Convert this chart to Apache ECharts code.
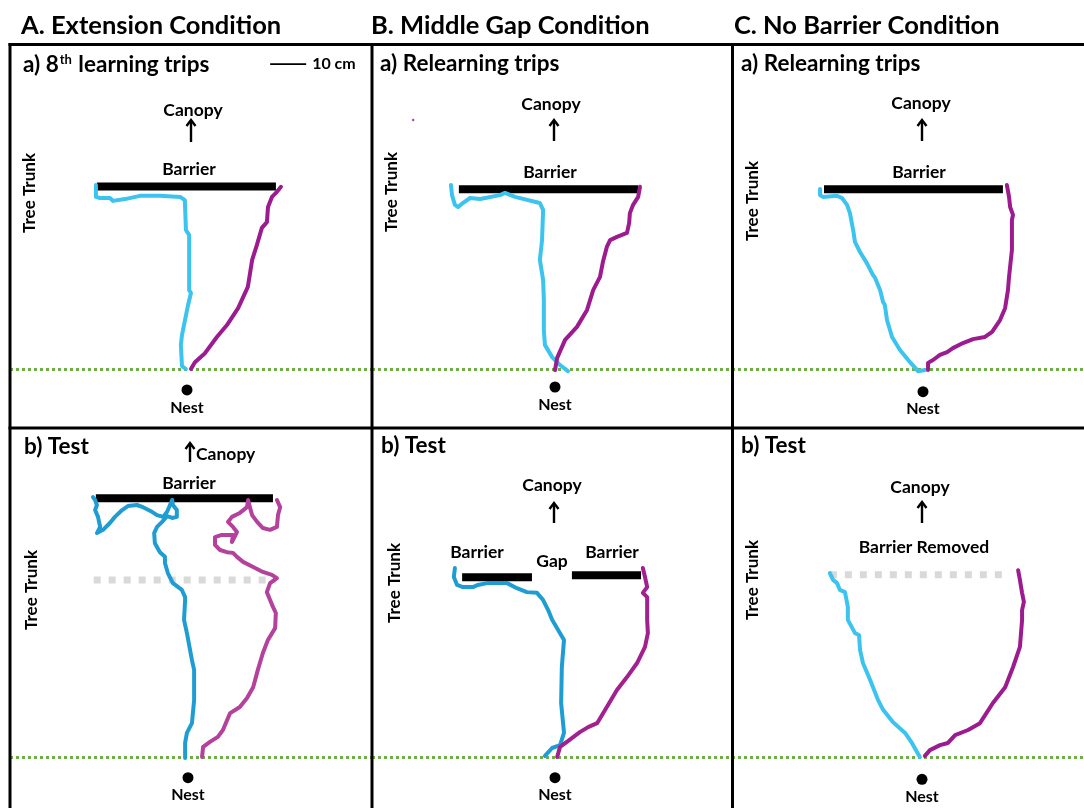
<!DOCTYPE html>
<html><head><meta charset="utf-8">
<script src="https://cdn.jsdelivr.net/npm/echarts@6/dist/echarts.min.js"></script>
<style>html,body{margin:0;padding:0;background:#fff}#c{width:1084px;height:808px}</style>
</head><body><div id="c"></div>
<script>
// ---------- DATA (cm, origin = nest position on the green start line, y up) ----------
const panelNames = ['A-a 8th learning', 'B-a relearning', 'C-a relearning', 'A-b test', 'B-b test', 'C-b test'];

// A. Extension condition, 8th learning trips
const extLearnBlue = [[-25.3,51.1],[-25.3,47.8],[-24.2,47.5],[-21.4,47.5],[-20.6,46.7],[-17.2,47.2],[-13.1,48.1],[-7.5,48.1],[-1.9,47.8],[-0.6,46.9],[-0.3,38.6],[0.6,37.2],[0.6,21.9],[1.1,21.1],[0.3,17.8],[-1.4,9.4],[-1.7,6.7],[-1.4,0.8],[-0.3,0]];
const extLearnPurple = [[1.1,0],[2.2,1.9],[5.0,4.4],[8.3,8.9],[11.1,12.2],[14.2,16.9],[16.9,22.8],[18.1,30.3],[19.4,34.4],[20.8,39.2],[22.2,40.8],[22.5,45.0],[23.6,47.8],[24.7,48.9],[26.1,50.6]];
const extLearnBarrier = [[-25.0,50.7],[24.7,50.7]];
const scaleBar = [[23.1,84.7],[33.1,84.7]]; // 10 cm

// B. Middle gap condition, relearning trips
const gapRelearnBlue = [[-28.9,51.1],[-28.6,48.3],[-27.8,45.6],[-26.9,45.0],[-25.6,46.1],[-23.6,47.5],[-20.8,47.2],[-15.3,48.3],[-13.9,48.9],[-11.1,47.8],[-4.2,46.1],[-3.3,44.2],[-3.6,35.8],[-4.2,30.3],[-3.3,24.7],[-3.1,19.2],[-3.1,10.8],[-2.8,6.7],[-0.8,3.3],[1.4,1.1],[3.6,-0.6]];
const gapRelearnPurple = [[0,-0.3],[0.6,3.1],[2.8,8.1],[6.1,11.7],[8.9,16.4],[10.6,21.9],[12.5,25.6],[13.3,29.7],[14.4,33.9],[15.3,35.8],[17.2,36.7],[20.0,37.8],[20.6,40.6],[20.8,43.3],[21.7,45.6],[23.1,47.8],[23.6,50.6]];
const gapRelearnStray = [[-39.4,69.2]];
const gapRelearnBarrier = [[-26.7,49.9],[23.1,49.9]];

// C. No barrier condition, relearning trips
const noBarRelearnBlue = [[-28.6,50.0],[-28.6,48.3],[-27.8,47.8],[-23.9,48.1],[-22.5,47.5],[-21.1,45.6],[-20.3,43.3],[-19.4,38.6],[-18.9,35.3],[-17.5,32.5],[-15.6,29.4],[-13.9,26.1],[-13.3,25.3],[-11.9,21.9],[-11.1,18.6],[-10.6,17.8],[-10.0,13.6],[-8.6,8.9],[-6.4,5.3],[-3.6,1.9],[-1.4,-0.6],[0.6,-0.3]];
const noBarRelearnPurple = [[1.4,-0.3],[1.4,1.7],[2.8,2.5],[4.7,3.9],[6.7,4.7],[8.3,5.8],[11.1,7.2],[13.9,8.3],[17.2,8.9],[19.2,10.3],[21.4,13.6],[22.8,16.9],[23.6,21.9],[23.9,25.6],[24.7,33.1],[24.7,37.8],[24.7,41.4],[25.0,42.8],[24.2,45.0],[23.9,47.8],[23.3,51.1]];
const noBarRelearnBarrier = [[-27.5,49.9],[22.2,49.9]];

// A. Extension condition, test
const extTestBlue = [[-26.4,72.2],[-25.8,71.4],[-25.3,70.0],[-25.8,68.6],[-25.0,66.7],[-24.4,63.9],[-25.3,62.2],[-23.6,63.1],[-21.7,65.0],[-20.3,66.7],[-18.3,68.6],[-16.7,69.7],[-14.2,70.0],[-12.5,69.4],[-10.0,68.1],[-8.6,67.2],[-6.9,66.7],[-5.8,68.1],[-5.0,70.0],[-4.4,71.4],[-4.2,70.0],[-3.1,68.6],[-3.1,66.7],[-4.4,66.4],[-5.8,66.9],[-7.2,65.3],[-8.6,63.9],[-9.4,62.2],[-9.2,59.4],[-7.8,56.9],[-6.4,55.6],[-6.4,53.9],[-5.6,51.1],[-4.2,48.3],[-1.7,46.4],[-0.8,44.4],[-0.8,43.6],[-1.1,38.1],[-0.3,34.4],[1.1,26.9],[1.7,24.2],[1.7,15.8],[1.1,9.4],[-0.3,6.7],[-0.8,3.9],[-0.8,-0.3]];
const extTestPurple = [[3.9,0],[4.2,2.8],[6.1,4.2],[8.3,5.6],[9.7,7.5],[11.7,12.2],[14.4,13.9],[16.4,16.4],[18.1,19.4],[19.4,24.2],[20.8,28.9],[22.2,32.5],[24.2,35.8],[24.4,40.0],[23.6,41.7],[22.8,43.6],[21.9,45.8],[22.8,48.3],[24.7,49.7],[23.3,50.6],[20.8,51.4],[18.1,52.8],[15.3,54.2],[13.6,55.6],[12.5,56.7],[10.8,56.9],[8.9,57.5],[7.5,58.9],[7.5,61.1],[9.4,61.7],[12.5,61.7],[12.2,59.7],[13.6,62.5],[12.5,63.9],[11.1,65.3],[12.2,66.7],[14.4,67.8],[16.4,69.4],[16.7,71.4],[17.2,69.4],[17.8,67.2],[19.2,65.3],[20.8,63.6],[22.8,63.1],[24.7,63.9],[25.0,67.2],[25.6,69.4],[24.7,71.4]];
const extTestBarrier = [[-25.6,71.9],[23.6,71.9]];
const extTestOldBarrier = [[-26.2,49.2],[24.5,49.2]];

// B. Middle gap condition, test
const gapTestBlue = [[-27.8,52.5],[-28.1,50.0],[-27.2,47.8],[-25.6,47.2],[-22.8,47.2],[-21.4,47.8],[-18.9,48.3],[-13.3,48.3],[-10.6,46.9],[-7.8,45.8],[-5.0,45.6],[-3.3,43.6],[-1.9,40.8],[-0.8,38.1],[1.4,34.4],[2.5,32.5],[1.9,25.0],[1.7,15.0],[2.5,6.7],[1.4,3.3],[-0.8,2.5],[-2.8,0.3]];
const gapTestPurple = [[24.4,52.5],[25.0,50.0],[25.6,47.2],[24.4,45.6],[25.6,44.4],[25.6,38.1],[25.8,34.4],[25.0,30.6],[22.8,26.1],[20.0,22.2],[17.2,18.6],[14.4,13.9],[11.7,9.4],[9.2,8.3],[6.9,6.9],[3.3,4.2],[1.4,2.8],[0.6,0]];
const gapTestBarrierLeft = [[-25.8,49.9],[-6.4,49.9]];
const gapTestBarrierRight = [[4.7,50.5],[23.9,50.5]];

// C. No barrier condition, test
const noBarTestBlue = [[-25.6,51.1],[-24.7,49.2],[-23.6,48.3],[-22.8,46.4],[-21.4,45.8],[-20.6,41.7],[-20.6,38.1],[-18.6,34.4],[-17.5,33.9],[-17.2,29.7],[-16.4,26.1],[-14.4,21.4],[-12.2,15.8],[-10.8,13.1],[-8.1,9.7],[-4.7,6.7],[-2.8,3.9],[-0.6,0]];
const noBarTestPurple = [[26.7,51.9],[27.2,49.2],[27.8,45.6],[28.3,43.1],[27.8,40.8],[27.8,38.1],[27.2,30.6],[25.3,25.0],[23.1,19.4],[19.7,15.0],[16.1,9.4],[12.8,7.5],[9.2,6.1],[7.2,3.9],[5.0,3.3],[2.2,1.9],[0.8,0.3]];
const noBarTestOldBarrier = [[-25.6,50.6],[23.3,50.6]];

// Nest depth below the start line (cm), per panel
const nestDepth = [-5.8, -5.0, -6.3, -5.75, -5.75, -6.2];

// ---------- LAYOUT ----------
const S = 3.6; // px per cm
const rects = [
  {l:10, t:44, w:362, h:384, ox:187, oy:369},
  {l:372, t:44, w:360, h:384, ox:555, oy:369},
  {l:732, t:44, w:352, h:384, ox:923, oy:369},
  {l:10, t:428, w:362, h:380, ox:188, oy:757},
  {l:372, t:428, w:360, h:380, ox:555, oy:757},
  {l:732, t:428, w:352, h:380, ox:922, oy:757}
];
const FONT = 'Lato, "Open Sans", sans-serif';
const LIGHT_BLUE = '#3cc3f0', DARK_BLUE = '#1f9dd3', PURPLE = '#9c1c8f', PINK_PURPLE = '#b4419c';

const grid = rects.map(r => ({left:r.l, top:r.t, width:r.w, height:r.h, show:false}));
const xAxis = rects.map((r,i) => ({type:'value', gridIndex:i, show:false, min:(r.l - r.ox)/S, max:(r.l + r.w - r.ox)/S}));
const yAxis = rects.map((r,i) => ({type:'value', gridIndex:i, show:false, min:(r.oy - (r.t + r.h))/S, max:(r.oy - r.t)/S}));

const series = [];
function path(i, data, color, w) {
  series.push({type:'line', xAxisIndex:i, yAxisIndex:i, data, showSymbol:false, symbol:'none', z:5,
    lineStyle:{color, width:w || 4, cap:'round', join:'round'}, animation:false, silent:true});
}
function bar(i, data) {
  series.push({type:'line', xAxisIndex:i, yAxisIndex:i, data, showSymbol:false, symbol:'none', z:3,
    lineStyle:{color:'#000', width:8, cap:'butt'}, animation:false, silent:true});
}
function removed(i, data) {
  series.push({type:'line', xAxisIndex:i, yAxisIndex:i, data, showSymbol:false, symbol:'none', z:2,
    lineStyle:{color:'#d9d9d9', width:7, type:[7,8], cap:'butt'}, animation:false, silent:true});
}
function nest(i) {
  series.push({type:'scatter', xAxisIndex:i, yAxisIndex:i, data:[[0, nestDepth[i]]], symbolSize:11, z:4,
    itemStyle:{color:'#000', opacity:1}, animation:false, silent:true,
    label:{show:true, position:'bottom', distance:4, formatter:'Nest', color:'#000', fontFamily:FONT, fontWeight:'bold', fontSize:16},
    markLine:{silent:true, symbol:'none', animation:false, label:{show:false}, data:[{yAxis:0}],
      lineStyle:{color:'#70ad47', width:3, type:[3,3], opacity:1}}});
}

// panel A-a
bar(0, extLearnBarrier); path(0, extLearnBlue, LIGHT_BLUE); path(0, extLearnPurple, PURPLE); nest(0);
series.push({type:'line', xAxisIndex:0, yAxisIndex:0, data:scaleBar, showSymbol:false, symbol:'none', animation:false, silent:true,
  lineStyle:{color:'#000', width:1.8},
  endLabel:{show:true, formatter:'10 cm', color:'#000', fontFamily:FONT, fontWeight:'bold', fontSize:16, distance:6}});
// panel B-a
bar(1, gapRelearnBarrier); path(1, gapRelearnBlue, LIGHT_BLUE); path(1, gapRelearnPurple, PURPLE); nest(1);
series.push({type:'scatter', xAxisIndex:1, yAxisIndex:1, data:gapRelearnStray, symbolSize:2.5, itemStyle:{color:PURPLE}, animation:false, silent:true});
// panel C-a
bar(2, noBarRelearnBarrier); path(2, noBarRelearnBlue, LIGHT_BLUE); path(2, noBarRelearnPurple, PURPLE); nest(2);
// panel A-b
bar(3, extTestBarrier); removed(3, extTestOldBarrier); path(3, extTestBlue, DARK_BLUE); path(3, extTestPurple, PINK_PURPLE); nest(3);
// panel B-b
bar(4, gapTestBarrierLeft); bar(4, gapTestBarrierRight); path(4, gapTestBlue, DARK_BLUE); path(4, gapTestPurple, '#a3208f'); nest(4);
// panel C-b
removed(5, noBarTestOldBarrier); path(5, noBarTestBlue, LIGHT_BLUE); path(5, noBarTestPurple, PURPLE); nest(5);

// ---------- ANNOTATIONS ----------
const graphic = [];
function txt(text, x, y, size, align, extra) {
  graphic.push(Object.assign({type:'text', x, y, z:10, silent:true,
    style:{text, fill:'#000', font:'bold ' + size + 'px ' + FONT, fontFamily:FONT, fontWeight:'bold', fontSize:size,
      align:align || 'center', textAlign:align || 'center', verticalAlign:'middle', textVerticalAlign:'middle'}}, extra || {}));
}
function arrow(x, yTop, yBot) {
  graphic.push({type:'line', silent:true, z:10, shape:{x1:x, y1:yBot, x2:x, y2:yTop + 1}, style:{stroke:'#000', lineWidth:2.4}});
  graphic.push({type:'polyline', silent:true, z:10, shape:{points:[[x - 4.5, yTop + 6], [x, yTop], [x + 4.5, yTop + 6]]}, style:{stroke:'#000', lineWidth:2.4, fill:null}});
}
function hline(x1, x2, y) { graphic.push({type:'line', silent:true, z:20, shape:{x1, y1:y, x2, y2:y}, style:{stroke:'#000', lineWidth:3}}); }
function vline(x, y1, y2) { graphic.push({type:'line', silent:true, z:20, shape:{x1:x, y1, x2:x, y2}, style:{stroke:'#000', lineWidth:3}}); }

// frame
hline(8.5, 1084, 44.5); hline(8.5, 1084, 428); vline(10, 43, 808); vline(372, 43, 808); vline(732.5, 43, 808);

// column headers
txt('A. Extension Condition', 21, 26, 25.5, 'left');
txt('B. Middle Gap Condition', 371, 26, 25.5, 'left');
txt('C. No Barrier Condition', 734, 26, 25.5, 'left');

// panel titles
graphic.push({type:'text', x:23, y:65, z:10, silent:true, style:{
  text:'{b|a) 8}{s|th}{b| learning trips}', fill:'#000', align:'left', textAlign:'left', verticalAlign:'middle', textVerticalAlign:'middle',
  rich:{b:{fontFamily:FONT, fontWeight:'bold', fontSize:22.5, fill:'#000'}, s:{fontFamily:FONT, fontWeight:'bold', fontSize:13, fill:'#000', verticalAlign:'top', padding:[0,1,11,1]}}}});
txt('a) Relearning trips', 380, 64, 22.5, 'left');
txt('a) Relearning trips', 741, 64, 22.5, 'left');
txt('b) Test', 24, 447, 22.5, 'left');
txt('b) Test', 381, 446, 22.5, 'left');
txt('b) Test', 741, 446, 22.5, 'left');

// canopy
txt('Canopy', 193, 110, 17.5); arrow(191, 120, 142);
txt('Canopy', 551, 104, 17.5); arrow(554, 120, 141);
txt('Canopy', 921, 103, 17.5); arrow(922, 120, 141);
txt('Canopy', 196, 454, 17.5, 'left'); arrow(190, 443, 462);
txt('Canopy', 552, 485, 17.5); arrow(554, 503, 523);
txt('Canopy', 920, 487, 17.5); arrow(922, 502, 523);

// barrier labels
txt('Barrier', 189, 169, 17.5);
txt('Barrier', 550, 172, 17.5);
txt('Barrier', 919, 172, 17.5);
txt('Barrier', 189, 483, 17.5);
txt('Barrier', 477, 552, 17.5);
txt('Gap', 552, 561, 17.5);
txt('Barrier', 612, 552, 17.5);
txt('Barrier Removed', 924, 547, 17.5);

// tree trunk
[[30,193],[392,192],[753,201],[32,590],[395,583],[753,580]].forEach(p => txt('Tree Trunk', p[0], p[1], 17, 'center', {rotation: Math.PI / 2}));

const chart = echarts.init(document.getElementById('c'), null, {renderer:'canvas'});
chart.setOption({animation:false, backgroundColor:'#fff', grid, xAxis, yAxis, series, graphic});
</script></body></html>
